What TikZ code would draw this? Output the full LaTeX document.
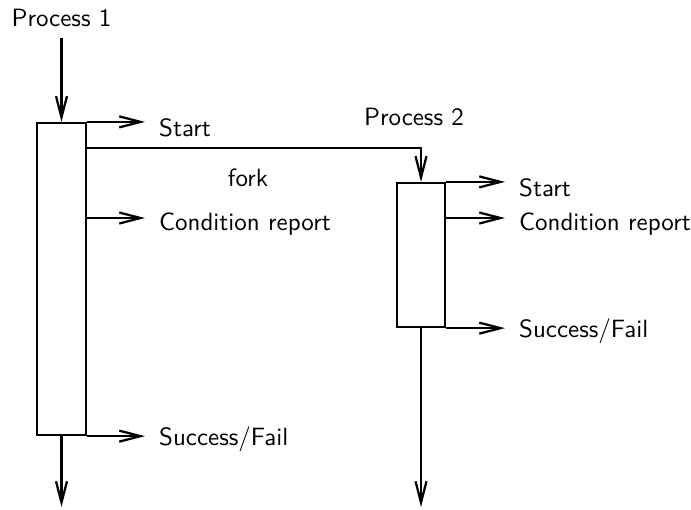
\documentclass[tikz,border=0pt]{standalone}
\usetikzlibrary{arrows.meta}
\begin{document}
\begin{tikzpicture}[x=0.4pt,y=-0.4pt,
  font=\sffamily\fontsize{10pt}{12pt}\selectfont,
  line width=0.9pt,
  flow/.style={-{Straight Barb[length=8.5pt,width=4.4pt,line width=0.9pt]}},
  procbox/.style={draw,line width=0.9pt,inner sep=0pt,minimum width=19.6pt},
  lbl/.style={anchor=west,inner sep=0pt}]
\useasboundingbox (0,0) rectangle (691,509);

% process 1
\node[anchor=south,inner sep=4pt] (p1) at (61.5,38) {Process 1};
\node[procbox,minimum height=124.8pt] (box1) at (61.5,279) {};
\draw[flow] (p1.south) -- (box1.north);

\coordinate (s1) at (145,123);
\coordinate (c1) at (145,218);
\coordinate (f1) at (145,435);
\draw[flow] (box1.north east) -- (box1.north east -| s1);
\draw[flow] (box1.east |- c1) -- (c1);
\draw[flow] (box1.south east) -- (box1.south east -| f1);
\node[lbl] (s1t) at (158,128) {Start};
\node[lbl] (c1t) at (158,224) {Condition report};
\node[lbl] (f1t) at (158,439) {Success/Fail};

\coordinate (e1) at (61.5,507);
\draw[flow] (box1.south) -- (e1);

% process 2
\node (p2) at (414,117) {Process 2};
\node[procbox,minimum width=19.2pt,minimum height=57.6pt] (box2) at (421,255) {};

\coordinate (k) at (421,148);
\draw[flow] (box1.east |- k) -- (k) -- (box2.north);
\node (fork) at (248,178) {fork};

\coordinate (s2) at (505,183);
\coordinate (c2) at (505,218);
\coordinate (f2) at (505,327);
\draw[flow] (box2.north east) -- (box2.north east -| s2);
\draw[flow] (box2.east |- c2) -- (c2);
\draw[flow] (box2.south east) -- (box2.south east -| f2);
\node[lbl] (s2t) at (518,188) {Start};
\node[lbl] (c2t) at (518,224) {Condition report};
\node[lbl] (f2t) at (518,331) {Success/Fail};

\coordinate (e2) at (421,507);
\draw[flow] (box2.south) -- (e2);
\end{tikzpicture}
\end{document}
